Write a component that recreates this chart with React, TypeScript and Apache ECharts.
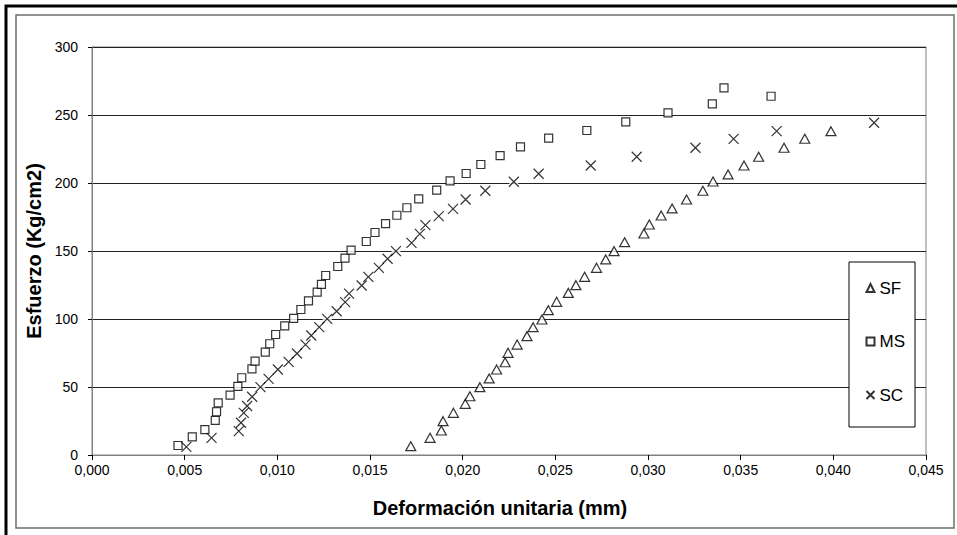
import React, { useEffect, useRef } from "react";
import * as echarts from "echarts";

const xTicks = { min: 0, max: 0.045, interval: 0.005 };
const yTicks = { min: 0, max: 300, interval: 50 };

const sfX = [0.0172, 0.01824, 0.01885, 0.01894, 0.0195, 0.02014, 0.02039, 0.02093, 0.02143, 0.02183, 0.02229, 0.02245, 0.02294, 0.02347, 0.0238, 0.02428, 0.02462, 0.02507, 0.0257, 0.02611, 0.02658, 0.02722, 0.02772, 0.02817, 0.02874, 0.02978, 0.03007, 0.03071, 0.0313, 0.03208, 0.03296, 0.03351, 0.03432, 0.03518, 0.03597, 0.03734, 0.03846, 0.03987];
const sfY = [6.5, 12.6, 18, 24.9, 31, 37.6, 43.2, 49.9, 56.3, 62.9, 68.2, 75.1, 81.2, 87.4, 94, 99.6, 106.5, 112.6, 119.2, 124.9, 131, 137.6, 143.8, 149.9, 156.5, 162.9, 169.5, 176.1, 181.3, 187.9, 194.3, 201.1, 206.3, 212.9, 219.3, 225.9, 232.5, 238.1];

const msX = [0.00464, 0.00541, 0.00609, 0.00665, 0.00672, 0.00681, 0.00745, 0.00787, 0.00808, 0.00863, 0.0088, 0.00935, 0.00959, 0.00991, 0.0104, 0.01088, 0.01127, 0.01168, 0.01215, 0.01238, 0.01261, 0.01326, 0.01365, 0.01398, 0.0148, 0.01527, 0.01584, 0.01645, 0.01699, 0.01763, 0.0186, 0.01932, 0.02019, 0.02098, 0.02202, 0.02312, 0.02464, 0.0267, 0.0288, 0.03108, 0.03347, 0.0341, 0.03664];
const msY = [7, 13.4, 18.7, 25.4, 31.8, 38.4, 44, 50.4, 56.8, 63.4, 69, 75.6, 81.8, 88.6, 95, 100.4, 107, 113.4, 119.7, 125.4, 132, 138.6, 144.7, 150.6, 157, 163.6, 170.2, 176.3, 181.8, 188.4, 194.7, 201.6, 207, 213.6, 220.2, 226.6, 233, 238.6, 245, 251.6, 258.2, 270, 263.8];

const scX = [0.00509, 0.00645, 0.00792, 0.00804, 0.00819, 0.00837, 0.00864, 0.00909, 0.00953, 0.01003, 0.01061, 0.01106, 0.01152, 0.01183, 0.01226, 0.01269, 0.0132, 0.01366, 0.01387, 0.01455, 0.01491, 0.01548, 0.01595, 0.0164, 0.01724, 0.01769, 0.01799, 0.01871, 0.01948, 0.02016, 0.02122, 0.02276, 0.0241, 0.02691, 0.02939, 0.03256, 0.03462, 0.03694, 0.0422];
const scY = [6, 12.6, 17.5, 23.7, 31, 36, 42.8, 49.9, 56, 62.9, 68.5, 74.6, 81.2, 87.9, 94, 100.1, 105.7, 112.4, 118.7, 124.6, 131, 137.6, 144.3, 149.9, 156, 162.6, 169, 175.6, 181, 187.9, 194.3, 200.9, 206.8, 212.9, 219.3, 225.9, 232.5, 238.1, 244.3];

const seriesNames = ["SF", "MS", "SC"];

const zip = (xs: number[], ys: number[]) => xs.map((x, i) => [x, ys[i]]);

const FONT = "'Liberation Sans', Arial, sans-serif";
const CROSS = "path://M0,0 L10,10 M10,0 L0,10";

export default function App() {
  const ref = useRef<HTMLDivElement>(null);
  useEffect(() => {
    if (!ref.current) return;
    const chart = echarts.init(ref.current, undefined, { renderer: "svg" });
    chart.setOption({
      animation: false,
      backgroundColor: "#fff",
      textStyle: { fontFamily: FONT },
      grid: {
        left: 92,
        right: 31,
        top: 47,
        bottom: 80,
        show: true,
        borderColor: "#808080",
        borderWidth: 1,
        backgroundColor: "transparent",
      },
      xAxis: {
        type: "value",
        min: xTicks.min,
        max: xTicks.max,
        interval: xTicks.interval,
        name: "Deformación unitaria (mm)",
        nameLocation: "middle",
        nameGap: 43,
        nameTextStyle: {
          fontSize: 20,
          fontWeight: "bold",
          color: "#000",
          fontFamily: FONT,
          padding: [0, 18, 0, 0],
        },
        axisLine: { show: true, onZero: false, lineStyle: { color: "#808080", width: 1 } },
        axisTick: { show: true, length: 5, lineStyle: { color: "#000" } },
        axisLabel: {
          color: "#000",
          fontSize: 14,
          margin: 8,
          fontFamily: FONT,
          formatter: (v: number) => v.toFixed(3).replace(".", ","),
        },
        splitLine: { show: false },
      },
      yAxis: {
        type: "value",
        min: yTicks.min,
        max: yTicks.max,
        interval: yTicks.interval,
        name: "Esfuerzo (Kg/cm2)",
        nameLocation: "middle",
        nameGap: 44,
        nameTextStyle: { fontSize: 20, fontWeight: "bold", color: "#000", fontFamily: FONT },
        axisLine: { show: true, onZero: false, lineStyle: { color: "#808080", width: 1 } },
        axisTick: { show: true, length: 4, lineStyle: { color: "#000" } },
        axisLabel: { color: "#000", fontSize: 14, margin: 14, fontFamily: FONT },
        splitLine: { show: true, lineStyle: { color: "#222", width: 1 } },
      },
      legend: {
        orient: "vertical",
        left: 849,
        top: 262,
        data: seriesNames,
        backgroundColor: "#fff",
        borderColor: "#000",
        borderWidth: 1,
        padding: [17.5, 10, 23.5, 15],
        itemWidth: 8,
        itemHeight: 8,
        itemGap: 36.5,
        textStyle: { fontSize: 17, color: "#000", fontFamily: FONT, lineHeight: 17 },
      },
      series: [
        {
          name: "SF",
          type: "scatter",
          symbol: "triangle",
          symbolSize: [10, 9],
          itemStyle: { color: "#fff", borderColor: "#000", borderWidth: 1.2 },
          data: zip(sfX, sfY),
          z: 3,
        },
        {
          name: "MS",
          type: "scatter",
          symbol: "rect",
          symbolSize: 8,
          itemStyle: { color: "#fff", borderColor: "#000", borderWidth: 1.2 },
          data: zip(msX, msY),
          z: 3,
        },
        {
          name: "SC-bg",
          type: "scatter",
          symbol: "rect",
          symbolSize: 9,
          silent: true,
          itemStyle: { color: "#fff" },
          data: zip(scX, scY),
          z: 2,
        },
        {
          name: "SC",
          type: "scatter",
          symbol: CROSS,
          symbolSize: 10,
          itemStyle: { color: "none", borderColor: "#000", borderWidth: 1.2 },
          data: zip(scX, scY),
          z: 3,
        },
      ],
      graphic: [
        {
          type: "rect",
          shape: { x: 16, y: 15, width: 938, height: 513 },
          style: { fill: "none", stroke: "#6e6e6e", lineWidth: 1.5 },
          silent: true,
          z: -1,
        },
        {
          type: "polyline",
          shape: { points: [[6, 535], [6, 6], [957, 6]] },
          style: { fill: "none", stroke: "#000", lineWidth: 3 },
          silent: true,
        },
      ],
    });
    return () => chart.dispose();
  }, []);
  return (
    <div
      ref={ref}
      style={{ position: "fixed", left: 0, top: 0, width: 957, height: 535 }}
    />
  );
}
